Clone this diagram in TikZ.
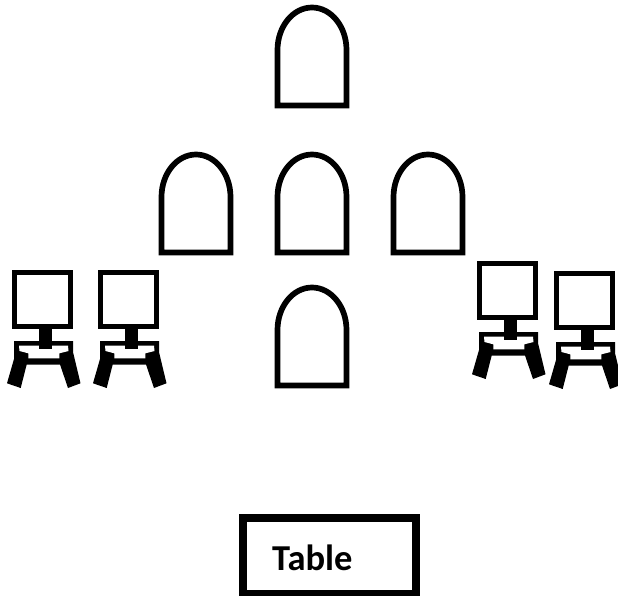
\documentclass[tikz,border=0pt]{standalone}
\usepackage{fontspec}
\setmainfont{Carlito}
\tikzset{
	seat/.style = {black, line width = 5.7},
	frame/.style = {black, line width = 5.7},
	tablebox/.style = {draw, line width = 8.6, minimum width = 173, minimum height = 76, inner sep = 0},
}
\begin{document}
\begin{tikzpicture}[x = 1pt, y = -1pt, line join = miter]
	\useasboundingbox (0,0) rectangle (618,596);
	% seats
	\foreach \x/\y in {312/0, 196/147, 312/147, 428/147, 312/280}
		\draw [seat, shift = {(\x,\y)}] (-34.5,50) arc (180:360:34.5 and 42.5) -- (34.5,105.5) -- (-34.5,105.5) -- cycle;
	% chairs
	\foreach \x/\y in {12/270, 98/270, 477/261, 554/271} {
		\begin{scope}[shift = {(\x,\y)}]
			\draw [frame] (2.5,2.5) rectangle (58.5,56.5);
			\fill [black] (2,71) -- (61,71) -- (61,82) -- (68.5,113.3) -- (56,118) -- (48,94.5) -- (14.7,94.5) -- (8.7,118) -- (-5,113.3) -- (2,89) -- cycle;
			\fill [white] (7,75.7) -- (56,75.7) -- (56.5,81) -- (47.3,83.3) -- (47.3,88.3) -- (16.3,88.3) -- (16.3,83.3) -- (7.5,81) -- cycle;
			\fill [black] (27,54) rectangle (39.5,78.5);
		\end{scope}
	}
	% table
	\node (table) [tablebox] at (329.5,556) {};
	\node (tablelabel) [font = \fontsize{36.5}{40}\selectfont\bfseries, anchor = base west, inner sep = 0] at (272,570) {Table};
\end{tikzpicture}
\end{document}
